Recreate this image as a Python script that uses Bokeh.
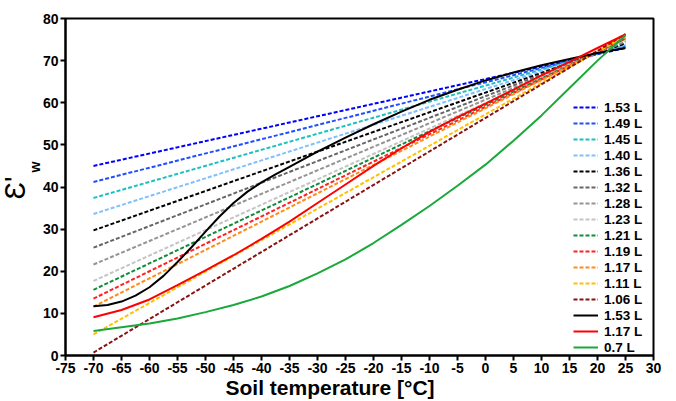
from bokeh.plotting import figure
from bokeh.models import FixedTicker, Legend, LegendItem, Title, Range1d
from bokeh.embed import file_html
from bokeh.resources import INLINE

# ---- data ----
x_ticks = [-75, -70, -65, -60, -55, -50, -45, -40, -35, -30, -25, -20, -15, -10, -5, 0, 5, 10, 15, 20, 25, 30]
y_ticks = [0, 10, 20, 30, 40, 50, 60, 70, 80]

dashed_labels = ["1.53 L", "1.49 L", "1.45 L", "1.40 L", "1.36 L", "1.32 L", "1.28 L",
                 "1.23 L", "1.21 L", "1.19 L", "1.17 L", "1.11 L", "1.06 L"]
dashed_colors = ["#0000ff", "#1f4fff", "#1fbfbf", "#80c0ff", "#000000", "#666666", "#949494",
                 "#c4c4c4", "#138a3c", "#ff2020", "#ff8c1a", "#ffc000", "#8b1010"]
dashed_x = [-70, 25]
dashed_start = [45.0, 41.2, 37.4, 33.6, 29.7, 25.6, 21.6, 17.7, 15.6, 13.5, 11.6, 5.0, 0.7]
dashed_end = [73.0, 73.3, 73.6, 73.85, 74.1, 74.4, 74.7, 75.0, 75.2, 75.3, 75.5, 75.9, 76.3]

black_x = [-70, -67.5, -65, -62.5, -60, -57.5, -55, -52.5, -50, -47.5, -45, -42.5, -40, -37.5,
           -35, -30, -25, -20, -15, -10, -5, 0, 5, 10, 15, 20, 25]
black_153 = [11.7, 12.0, 12.8, 14.2, 16.2, 18.9, 22.2, 25.7, 29.4, 33.0, 36.2, 38.9, 41.1, 43.0,
             44.8, 48.4, 51.7, 54.9, 57.9, 60.7, 63.1, 65.3, 67.2, 68.9, 70.4, 71.8, 73.0]
curve_x = [-70, -65, -60, -55, -50, -45, -40, -35, -30, -25, -20, -15, -10, -5, 0, 5, 10, 15, 20, 25]
red_117 = [9.1, 10.8, 13.3, 16.7, 20.2, 23.8, 27.7, 31.8, 36.2, 40.6, 45.0, 49.2, 53.1, 56.6,
           59.8, 63.1, 66.5, 69.7, 73.0, 76.2]
green_07 = [5.8, 6.7, 7.6, 8.8, 10.3, 12.0, 14.0, 16.5, 19.5, 22.8, 26.7, 31.0, 35.5, 40.3,
            45.3, 51.0, 57.0, 63.5, 70.0, 76.0]
solid_labels = ["1.53 L", "1.17 L", "0.7 L"]
solid_colors = ["#000000", "#ff0000", "#19a83a"]
solid_x = [black_x, curve_x, curve_x]
solid_values = [black_153, red_117, green_07]

FONT = "Liberation Sans"

p = figure(width=676, height=401, output_backend="svg", toolbar_location=None,
           x_range=Range1d(-75, 30), y_range=Range1d(0, 80),
           min_border_left=65, min_border_right=23, min_border_top=18, min_border_bottom=46)
p.xgrid.visible = False
p.ygrid.visible = False
p.outline_line_color = "black"
p.outline_line_width = 2
p.outline_line_alpha = 1.0
p.background_fill_color = "white"
p.border_fill_color = "white"

for ax, ticks in ((p.xaxis[0], x_ticks), (p.yaxis[0], y_ticks)):
    ax.ticker = FixedTicker(ticks=ticks)
    ax.major_label_overrides = {t: str(t) for t in ticks}
    ax.axis_line_width = 2
    ax.axis_line_color = "black"
    ax.major_tick_line_width = 2
    ax.major_tick_line_color = "black"
    ax.major_tick_out = 5
    ax.major_tick_in = 0
    ax.minor_tick_line_color = None
    ax.major_label_text_font = FONT
    ax.major_label_text_font_style = "bold"
    ax.major_label_text_font_size = "14px"
    ax.major_label_text_color = "black"
    ax.major_label_standoff = 2

items = []
for lab, col, s, e in zip(dashed_labels, dashed_colors, dashed_start, dashed_end):
    r = p.line(dashed_x, [s, e], line_color=col, line_width=2, line_dash="4 2")
    items.append(LegendItem(label=lab, renderers=[r]))
for lab, col, xs, vals in zip(solid_labels, solid_colors, solid_x, solid_values):
    r = p.line(xs, vals, line_color=col, line_width=2)
    items.append(LegendItem(label=lab, renderers=[r]))

legend = Legend(items=items, location=(508, 0), border_line_color=None,
                background_fill_alpha=0, padding=0, margin=0, spacing=0,
                glyph_width=25, glyph_height=16, label_height=16, label_standoff=6,
                label_text_font=FONT, label_text_font_style="bold",
                label_text_font_size="13.5px", label_text_color="black")
p.add_layout(legend)

# axis titles
p.add_layout(Title(text="Soil temperature [°C]", align="left", offset=160, standoff=-3,
                   text_font=FONT, text_font_style="bold", text_font_size="21px",
                   text_color="black"), "below")
p.add_layout(Title(text="w", align="left", offset=183, standoff=-6,
                   text_font=FONT, text_font_style="bold", text_font_size="14px",
                   text_color="black"), "left")
p.add_layout(Title(text="Ɛ'", align="left", offset=156, standoff=-7,
                   text_font=FONT, text_font_style="normal", text_font_size="29px",
                   text_color="black"), "left")

open("out.html", "w").write(file_html(p, INLINE))
